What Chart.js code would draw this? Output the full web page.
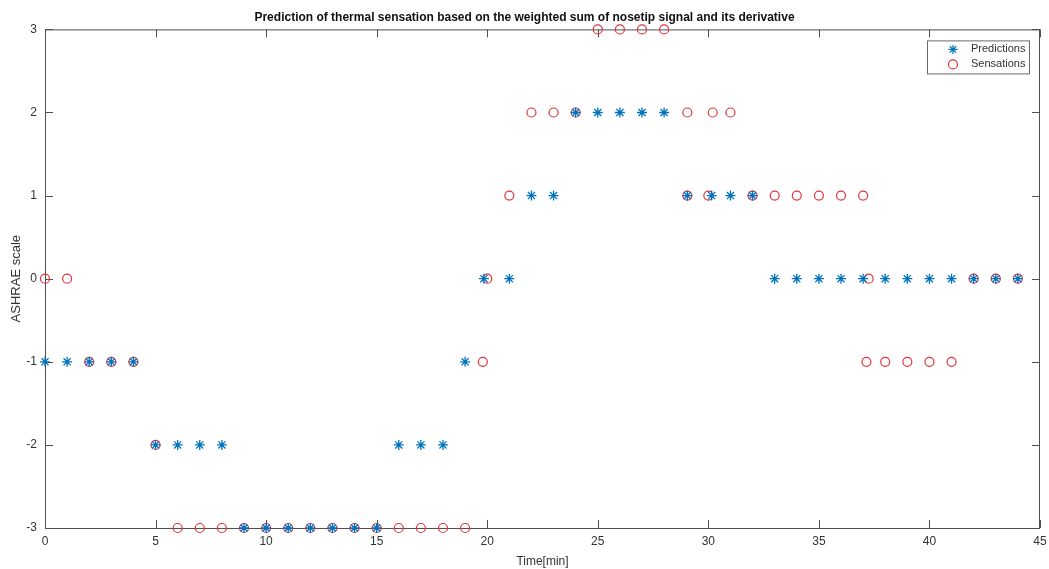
<!DOCTYPE html>
<html>
<head>
<meta charset="utf-8">
<script src="https://cdn.jsdelivr.net/npm/chart.js@4.4.1/dist/chart.umd.min.js"></script>
<style>
  html, body { margin: 0; padding: 0; background: #fff; }
  #wrap { width: 1049px; height: 569px; }
</style>
</head>
<body>
<div id="wrap"><canvas id="chart" width="1049" height="569"></canvas></div>
<script>
// Datos
const predTime = [0, 1, 2, 3, 4, 5, 6, 7, 8, 9, 10, 11, 12, 13, 14, 15, 16, 17, 18, 19, 19.85,
    21, 22, 23, 24, 25, 26, 27, 28, 29.05, 30.15, 31, 32, 33, 34, 35, 36, 37, 38, 39, 40, 41, 42, 43, 44];
const predValue = [-1, -1, -1, -1, -1, -2, -2, -2, -2, -3, -3, -3, -3, -3, -3, -3, -2, -2, -2, -1, 0,
    0, 1, 1, 2, 2, 2, 2, 2, 1, 1, 1, 1, 0, 0, 0, 0, 0, 0, 0, 0, 0, 0, 0, 0];

const sensTime = [0, 1, 2, 3, 4, 5, 6, 7, 8, 9, 10, 11, 12, 13, 14, 15, 16, 17, 18, 19, 19.8, 20,
    21, 22, 23, 24, 25, 26, 27, 28, 29.05, 29.05, 30, 30.2, 31, 32, 33, 34, 35, 36, 37, 37.15, 37.25,
    38, 39, 40, 41, 42, 43, 44];
const sensValue = [0, 0, -1, -1, -1, -2, -3, -3, -3, -3, -3, -3, -3, -3, -3, -3, -3, -3, -3, -3, -1, 0,
    1, 2, 2, 2, 3, 3, 3, 3, 2, 1, 1, 2, 2, 1, 1, 1, 1, 1, 1, -1, 0,
    -1, -1, -1, -1, 0, 0, 0];

const xTicks = [0, 5, 10, 15, 20, 25, 30, 35, 40, 45];
const yTicks = [-3, -2, -1, 0, 1, 2, 3];

const seriesNames = ['Predictions', 'Sensations'];
const blue = '#0072BD';
const red = '#E0323A';
const axisColor = '#505050';
const textColor = '#333333';
const fontFamily = '"Liberation Sans", Arial, sans-serif';

function toPoints(xs, ys) {
    return xs.map((x, i) => ({ x: x, y: ys[i] }));
}

// Caja de ejes con marcas hacia dentro (estilo MATLAB) y leyenda
const boxPlugin = {
    id: 'boxPlugin',
    beforeDatasetsDraw(chart) {
        const ctx = chart.ctx;
        const a = chart.chartArea;
        const xs = chart.scales.x;
        const ys = chart.scales.y;
        const tick = 8;
        ctx.save();
        ctx.strokeStyle = axisColor;
        ctx.lineWidth = 1;
        ctx.strokeRect(a.left + 0.5, a.top + 0.5, a.right - a.left - 1, a.bottom - a.top);
        ctx.beginPath();
        xTicks.forEach(v => {
            const px = Math.round(xs.getPixelForValue(v)) + 0.5;
            ctx.moveTo(px, a.bottom); ctx.lineTo(px, a.bottom - tick);
            ctx.moveTo(px, a.top); ctx.lineTo(px, a.top + tick);
        });
        yTicks.forEach(v => {
            const py = Math.round(ys.getPixelForValue(v)) + 0.5;
            ctx.moveTo(a.left, py); ctx.lineTo(a.left + tick, py);
            ctx.moveTo(a.right, py); ctx.lineTo(a.right - tick, py);
        });
        ctx.stroke();
        ctx.restore();
    },
    afterDatasetsDraw(chart) {
        const ctx = chart.ctx;
        const a = chart.chartArea;
        // Leyenda
        const lx = a.right - 113, ly = a.top + 11, lw = 102, lh = 33;
        ctx.save();
        ctx.fillStyle = '#fff';
        ctx.fillRect(lx, ly, lw, lh);
        ctx.strokeStyle = '#6a6a6a';
        ctx.lineWidth = 1;
        ctx.strokeRect(lx + 0.5, ly + 0.5, lw, lh);
        ctx.font = '11px ' + fontFamily;
        ctx.textBaseline = 'middle';
        chart.data.datasets.forEach((ds, i) => {
            const cy = ly + 9 + i * 15;
            ctx.strokeStyle = ds.borderColor;
            ctx.fillStyle = 'rgba(0,0,0,0)';
            ctx.lineWidth = 1.2;
            Chart.helpers.drawPoint(ctx, {
                pointStyle: ds.pointStyle, radius: 4.5, borderWidth: 1.2, rotation: 0
            }, lx + 26, cy);
            ctx.fillStyle = textColor;
            ctx.fillText(seriesNames[i], lx + 44, cy);
        });
        ctx.restore();
    }
};

const ctx = document.getElementById('chart').getContext('2d');
new Chart(ctx, {
    type: 'scatter',
    data: {
        datasets: [{
            label: seriesNames[0],
            data: toPoints(predTime, predValue),
            pointStyle: 'star',
            pointRadius: 5,
            borderColor: blue,
            backgroundColor: blue,
            borderWidth: 1.3,
            clip: false,
            order: 1
        }, {
            label: seriesNames[1],
            data: toPoints(sensTime, sensValue),
            pointStyle: 'circle',
            pointRadius: 4.5,
            borderColor: red,
            backgroundColor: 'rgba(0,0,0,0)',
            borderWidth: 1.2,
            clip: false,
            order: 2
        }]
    },
    options: {
        responsive: false,
        animation: false,
        layout: { padding: { left: 0, right: 0, top: 0, bottom: 0 } },
        plugins: {
            legend: { display: false },
            tooltip: { enabled: false },
            title: {
                display: true,
                text: 'Prediction of thermal sensation based on the weighted sum of nosetip signal and its derivative',
                color: '#111',
                font: { family: fontFamily, size: 12, weight: 'bold' },
                padding: { top: 10, bottom: 5 }
            }
        },
        scales: {
            x: {
                type: 'linear',
                min: 0,
                max: 45,
                afterBuildTicks: s => { s.ticks = xTicks.map(v => ({ value: v })); },
                afterFit: s => { s.height = 41; s.paddingRight = 9; },
                grid: { display: false, drawTicks: false },
                border: { display: false },
                ticks: {
                    color: textColor,
                    padding: 6,
                    font: { family: fontFamily, size: 12 }
                },
                title: {
                    display: true,
                    text: 'Time[min]',
                    color: textColor,
                    padding: { top: 1, bottom: 0 },
                    font: { family: fontFamily, size: 12 }
                }
            },
            y: {
                type: 'linear',
                min: -3,
                max: 3,
                afterBuildTicks: s => { s.ticks = yTicks.map(v => ({ value: v })); },
                afterFit: s => { s.width = 45; },
                grid: { display: false, drawTicks: false },
                border: { display: false },
                ticks: {
                    color: textColor,
                    padding: 8,
                    font: { family: fontFamily, size: 12 }
                },
                title: {
                    display: true,
                    text: 'ASHRAE scale',
                    color: textColor,
                    padding: { top: 9, bottom: 2 },
                    font: { family: fontFamily, size: 13 }
                }
            }
        }
    },
    plugins: [boxPlugin]
});
</script>
</body>
</html>
